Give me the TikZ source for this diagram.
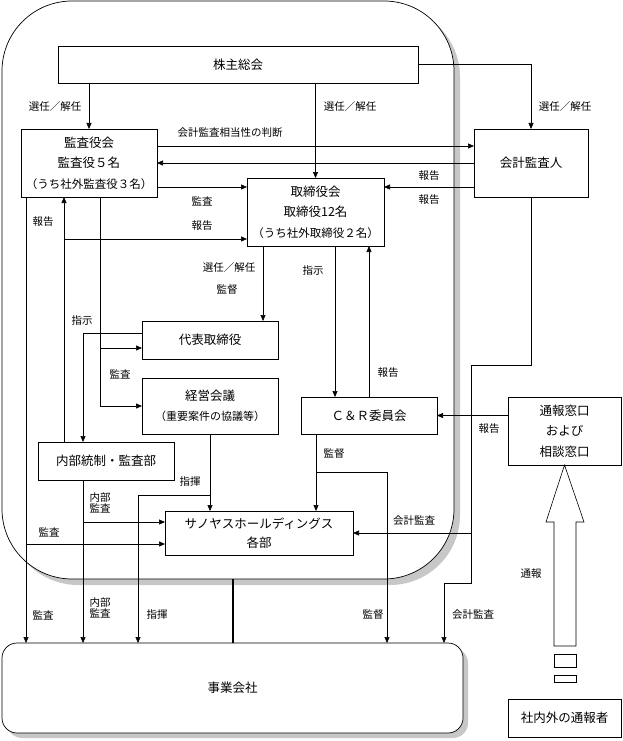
\documentclass[tikz,border=0pt]{standalone}
\usepackage{fontspec}
\setmainfont{Noto Sans CJK JP}
\usetikzlibrary{arrows.meta}

\begin{document}
\begin{tikzpicture}[x=1pt, y=-1pt, line join=miter,
    box/.style={draw, fill=white, line width=0.7pt, inner sep=0pt, outer sep=0pt, align=center, font=\fontsize{12.5}{20.5}\selectfont},
    lbl/.style={inner sep=0pt, align=center, font=\fontsize{10.5}{11.5}\selectfont},
    arr/.style={-{Triangle[length=6pt, width=5pt]}, line width=0.6pt},
    conn/.style={line width=0.6pt},
    shade/.style={fill=black!22}]
    \useasboundingbox (0,0) rectangle (622,741);

    % holding company frame with its shadow
    \fill[shade, rounded corners=70] (8,7) rectangle (460,585);
    \filldraw[fill=white, line width=0.7pt, rounded corners=70] (2,1) rectangle (454,579);
    \coordinate (hdbot) at (233,579);

    % shadow of the operating companies box
    \fill[shade, rounded corners=15] (7,648) rectangle (468,738);

    \node[box, minimum width=360, minimum height=37] (kabu) at (238,64.5) {株主総会};
    \node[box, minimum width=136, minimum height=68] (kansa) at (89,163) {監査役会\\監査役５名\\{\fontsize{11.5}{20.5}\selectfont（うち社外監査役３名）}};
    \node[box, minimum width=137, minimum height=68] (torishimari) at (315.5,212) {取締役会\\取締役12名\\{\fontsize{11.5}{20.5}\selectfont（うち社外取締役２名）}};
    \node[box, minimum width=114, minimum height=68] (kaikei) at (531,163) {会計監査人};
    \node[box, minimum width=136, minimum height=38] (daihyo) at (210,340) {代表取締役};
    \node[box, minimum width=136, minimum height=56] (keiei) at (210,406) {経営会議\\{\fontsize{11}{20.5}\selectfont（重要案件の協議等）}};
    \node[box, minimum width=136, minimum height=38] (naibu) at (106,461) {内部統制・監査部};
    \node[box, minimum width=136, minimum height=37] (cr) at (369,415.5) {Ｃ＆Ｒ委員会};
    \node[box, minimum width=113, minimum height=68] (madoguchi) at (564.5,431) {通報窓口\\および\\相談窓口};
    \node[box, minimum width=188, minimum height=44, font=\fontsize{12.5}{19}\selectfont] (sanoyasu) at (259,533) {サノヤスホールディングス\\各部};
    \node[box, minimum width=113, minimum height=38] (tsuhosha) at (564.5,718) {社内外の通報者};
    \node[box, rounded corners=15, minimum width=461, minimum height=90] (jigyo) at (232.5,688) {事業会社};

    % shareholders
    \draw[arr] (kabu.south -| kansa.north) -- (kansa.north);
    \draw[arr] (kabu.south -| torishimari.north) -- (torishimari.north);
    \draw[arr] (kabu.east) -| (kaikei.north);

    % audit board and accounting auditor
    \draw[arr] (kansa.east |- 0,146) -- (kaikei.west |- 0,146);
    \draw[arr] (kaikei.west) -- (kansa.east);
    \draw[arr] (kansa.east |- 0,187) -- (torishimari.west |- 0,187);
    \draw[arr] (kaikei.west |- 0,187) -- (torishimari.east |- 0,187);

    % reports of internal control
    \draw[arr] (naibu.north -| 64,0) -- (kansa.south -| 64,0);
    \draw[arr] (64,239) -- (torishimari.west |- 0,239);

    % audits from the audit board
    \draw[arr] (kansa.south -| 26,0) -- (jigyo.north -| 26,0);
    \draw[arr] (26,544) -- (sanoyasu.west |- 0,544);
    \draw[arr] (kansa.south -| 100,0) |- (keiei.west);
    \draw[arr] (100,348) -- (daihyo.west |- 0,348);

    % board of directors
    \draw[arr] (daihyo.west |- 0,333) -| (naibu.north -| 83,0);
    \draw[arr] (torishimari.south -| 263,0) -- (daihyo.north -| 263,0);
    \draw[arr] (torishimari.south -| 335,0) -- (cr.north -| 335,0);
    \draw[arr] (cr.north) -- (torishimari.south -| cr.north);
    \draw[arr] (madoguchi.west |- cr.east) -- (cr.east);

    % supervision and command
    \draw[arr] (cr.south -| 316,0) -- (sanoyasu.north -| 316,0);
    \draw[arr] (316,472) -| (jigyo.north -| 387,0);
    \draw[arr] (keiei.south) -- (sanoyasu.north -| keiei.south);
    \draw[arr] (210,495) -| (jigyo.north -| 138,0);
    \draw[arr] (naibu.south -| 83,0) -- (jigyo.north -| 83,0);
    \draw[arr] (83,522) -- (sanoyasu.west |- 0,522);

    % accounting audit
    \draw[arr] (kaikei.south) |- (471,365) |- (444,583) -- (jigyo.north -| 444,0);
    \draw[arr] (471,533) -- (sanoyasu.east);

    \draw[line width=2.2pt] (hdbot) -- (jigyo.north -| hdbot);

    % whistleblowing
    \draw[conn, fill=white] (madoguchi.south) -- (584,522) -- (576,522) -- (576,646) -- (554,646) -- (554,522) -- (546,522) -- cycle;
    \draw[conn] (554,654) rectangle (576,667);
    \draw[conn] (554,675) rectangle (576,682);

    % labels
    \node[lbl] (l1) at (55,107) {選任／解任};
    \node[lbl] (l2) at (350,107) {選任／解任};
    \node[lbl] (l3) at (565,107) {選任／解任};
    \node[lbl] (l4) at (230,133) {会計監査相当性の判断};
    \node[lbl] (l5) at (202,201) {監査};
    \node[lbl] (l6) at (202,226) {報告};
    \node[lbl] (l7) at (429,176) {報告};
    \node[lbl] (l8) at (429,200) {報告};
    \node[lbl] (l9) at (43,222) {報告};
    \node[lbl] (l10) at (229,268) {選任／解任};
    \node[lbl] (l11) at (227,290) {監督};
    \node[lbl] (l12) at (313,271) {指示};
    \node[lbl] (l13) at (82,321) {指示};
    \node[lbl] (l14) at (120,374) {監査};
    \node[lbl] (l15) at (388,373) {報告};
    \node[lbl] (l16) at (489,429) {報告};
    \node[lbl] (l17) at (334,454) {監督};
    \node[lbl] (l18) at (190,482) {指揮};
    \node[lbl] (l19) at (100,503) {内部\\監査};
    \node[lbl] (l20) at (49,532) {監査};
    \node[lbl] (l21) at (414,521) {会計監査};
    \node[lbl] (l22) at (43,615) {監査};
    \node[lbl] (l23) at (100,608) {内部\\監査};
    \node[lbl] (l24) at (157,615) {指揮};
    \node[lbl] (l25) at (373,615) {監督};
    \node[lbl] (l26) at (473,615) {会計監査};
    \node[lbl] (l27) at (531,574) {通報};
\end{tikzpicture}
\end{document}
